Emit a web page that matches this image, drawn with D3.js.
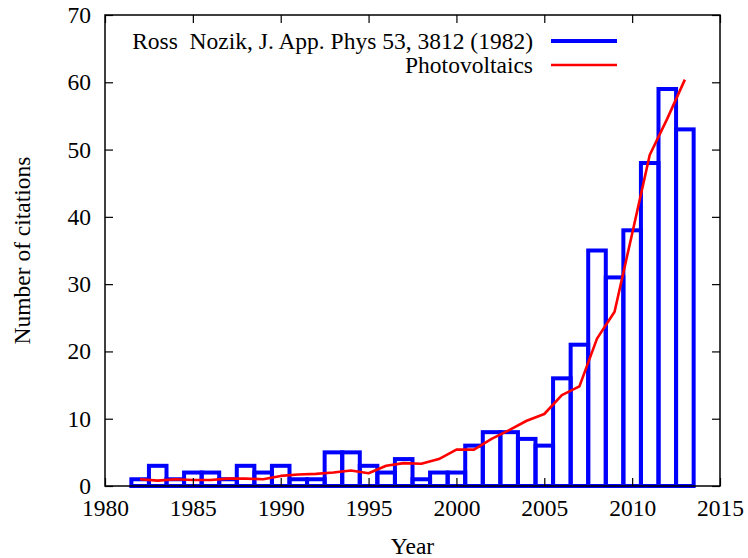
<!DOCTYPE html>
<html>
<head>
<meta charset="utf-8">
<script src="https://cdn.jsdelivr.net/npm/d3@7"></script>
<style>
  body { margin: 0; background: #fff; }
  svg text { font-family: "Liberation Serif", "Times New Roman", Tinos, "DejaVu Serif", serif; white-space: pre; }
</style>
</head>
<body>
<svg id="chart"></svg>
<script>
const years = [1982, 1983, 1984, 1985, 1986, 1987, 1988, 1989, 1990, 1991, 1992,
  1993, 1994, 1995, 1996, 1997, 1998, 1999, 2000, 2001, 2002, 2003, 2004, 2005,
  2006, 2007, 2008, 2009, 2010, 2011, 2012, 2013];
const citations = [1, 3, 1, 2, 2, 1, 3, 2, 3, 1, 1, 5, 5, 3, 2, 4, 1, 2, 2, 6,
  8, 8, 7, 6, 16, 21, 35, 31, 38, 48, 59, 53];
const photovoltaics = [1.0, 0.8, 1.0, 0.9, 0.9, 1.1, 1.1, 1.0, 1.5, 1.7, 1.8,
  2.0, 2.3, 1.9, 3.0, 3.4, 3.3, 4.0, 5.4, 5.4, 7.0, 8.3, 9.7, 10.7, 13.5, 14.8,
  21.9, 25.9, 37.5, 49.2, 54.6, 60.4];
const xTicks = [1980, 1985, 1990, 1995, 2000, 2005, 2010, 2015];
const yTicks = [0, 10, 20, 30, 40, 50, 60, 70];
const seriesNames = ["Ross  Nozik, J. App. Phys 53, 3812 (1982)", "Photovoltaics"];

const W = 748, H = 558;
const margin = { top: 15, right: 28, bottom: 72, left: 105 };
const width = W - margin.left - margin.right;
const height = H - margin.top - margin.bottom;
const fontSize = 23.5;
const serif = '"Liberation Serif", "Times New Roman", Tinos, "DejaVu Serif", serif';

const svg = d3.select("#chart")
    .attr("width", W)
    .attr("height", H);

svg.append("rect").attr("width", W).attr("height", H).attr("fill", "#fff");

const g = svg.append("g")
    .attr("transform", `translate(${margin.left},${margin.top})`);

const x = d3.scaleLinear().domain([1980, 2015]).range([0, width]);
const y = d3.scaleLinear().domain([0, 70]).range([height, 0]);

const data = years.map((yr, i) => ({ year: yr, c: citations[i], pv: photovoltaics[i] }));

// bars (boxes, width one year, centred on year)
g.selectAll(".bar")
    .data(data)
  .enter().append("rect")
    .attr("class", "bar")
    .attr("x", d => x(d.year - 0.5))
    .attr("width", d => x(d.year + 0.5) - x(d.year - 0.5))
    .attr("y", d => y(d.c))
    .attr("height", d => height - y(d.c))
    .attr("fill", "none")
    .attr("stroke", "#0000ff")
    .attr("stroke-width", 4);

// photovoltaics line
const line = d3.line().x(d => x(d.year)).y(d => y(d.pv));
g.append("path")
    .datum(data)
    .attr("d", line)
    .attr("fill", "none")
    .attr("stroke", "#ff0000")
    .attr("stroke-width", 2.6)
    .attr("stroke-linejoin", "round");

// axes with inward ticks, mirrored
const tickLen = 8;
const styleAxis = sel => {
  sel.select(".domain").remove();
  sel.attr("font-family", null).attr("font-size", null);
  sel.selectAll(".tick line").attr("stroke", "#000").attr("stroke-width", 1.2);
  sel.selectAll(".tick text")
      .attr("fill", "#000")
      .style("font-size", fontSize + "px")
      .style("font-family", serif);
};

g.append("g")
    .attr("transform", `translate(0,${height})`)
    .call(d3.axisBottom(x).tickValues(xTicks).tickFormat(d3.format("d"))
      .tickSizeInner(-tickLen).tickSizeOuter(0).tickPadding(13))
    .call(styleAxis);

g.append("g")
    .call(d3.axisTop(x).tickValues(xTicks).tickFormat("")
      .tickSizeInner(-tickLen).tickSizeOuter(0))
    .call(styleAxis);

g.append("g")
    .call(d3.axisLeft(y).tickValues(yTicks)
      .tickSizeInner(-tickLen).tickSizeOuter(0).tickPadding(14))
    .call(styleAxis);

g.append("g")
    .attr("transform", `translate(${width},0)`)
    .call(d3.axisRight(y).tickValues(yTicks).tickFormat("")
      .tickSizeInner(-tickLen).tickSizeOuter(0))
    .call(styleAxis);

// frame
g.append("rect")
    .attr("width", width)
    .attr("height", height)
    .attr("fill", "none")
    .attr("stroke", "#000")
    .attr("stroke-width", 1.5);

// axis titles
svg.append("text")
    .attr("x", margin.left + width / 2)
    .attr("y", 554)
    .attr("text-anchor", "middle")
    .style("font-size", fontSize + "px")
    .style("font-family", serif)
    .text("Year");

svg.append("text")
    .attr("transform", `translate(30,${margin.top + height / 2}) rotate(-90)`)
    .attr("text-anchor", "middle")
    .style("font-size", fontSize + "px")
    .style("font-family", serif)
    .text("Number of citations");

// legend
const legend = g.append("g");
const legendItems = [
  { name: seriesNames[0], color: "#0000ff", w: 4, yPos: 26 },
  { name: seriesNames[1], color: "#ff0000", w: 2.6, yPos: 50 }
];
legendItems.forEach(it => {
  legend.append("text")
      .attr("x", 428)
      .attr("y", it.yPos)
      .attr("dy", "0.35em")
      .attr("text-anchor", "end")
      .style("font-size", fontSize + "px")
      .style("font-family", serif)
      .text(it.name);
  legend.append("line")
      .attr("x1", 446).attr("x2", 512)
      .attr("y1", it.yPos).attr("y2", it.yPos)
      .attr("stroke", it.color)
      .attr("stroke-width", it.w);
});
</script>
</body>
</html>
